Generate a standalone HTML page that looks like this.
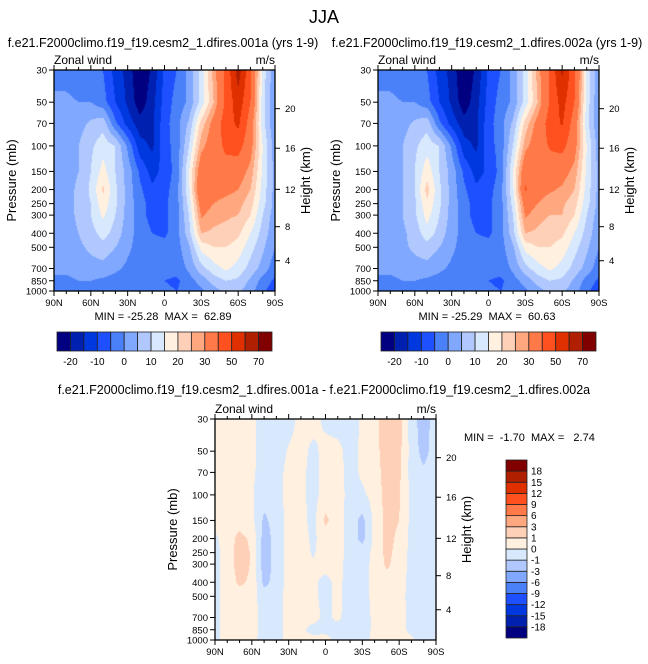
<!DOCTYPE html>
<html><head><meta charset="utf-8">
<style>
body{margin:0;background:#fff;width:648px;height:664px;overflow:hidden;position:relative;font-family:"Liberation Sans",sans-serif}
canvas{position:absolute}
svg{position:absolute;left:0;top:0}
</style></head>
<body>
<canvas id="cA" width="221" height="221" style="left:54px;top:70px"></canvas>
<canvas id="cB" width="221" height="221" style="left:378px;top:70px"></canvas>
<canvas id="cD" width="221" height="221" style="left:215px;top:419px"></canvas>
<svg id="ov" width="648" height="664" font-family="Liberation Sans, sans-serif">
<text x="324" y="23" font-size="18" text-anchor="middle">JJA</text>
<text x="163" y="47" font-size="12.5" text-anchor="middle">f.e21.F2000climo.f19_f19.cesm2_1.dfires.001a (yrs 1-9)</text>
<text x="487" y="47" font-size="12.5" text-anchor="middle">f.e21.F2000climo.f19_f19.cesm2_1.dfires.002a (yrs 1-9)</text>
<text x="324" y="394" font-size="12.5" text-anchor="middle">f.e21.F2000climo.f19_f19.cesm2_1.dfires.001a - f.e21.F2000climo.f19_f19.cesm2_1.dfires.002a</text>
<text x="163" y="320" font-size="11" text-anchor="middle" xml:space="preserve">MIN = -25.28  MAX =  62.89</text>
<text x="487" y="320" font-size="11" text-anchor="middle" xml:space="preserve">MIN = -25.29  MAX =  60.63</text>
<text x="464" y="441" font-size="11" xml:space="preserve">MIN =  -1.70  MAX =   2.74</text>
</svg>
<script>
const lats=[90,80,70,60,50,40,30,20,10,0,-10,-20,-30,-40,-50,-60,-70,-80,-90];
const pLevels=[30,50,70,100,150,200,250,300,400,500,700,850,1000];
const windA=[
[-2,-2,-3,-3,-5,-12,-17,-25,-19,-9,-5,2,12,27,42,65,42,13,1],
[1,1,0,0,-3,-10,-16,-23,-17,-8,-3,1,12,25,42,56,40,12,0],
[2,3,3,6,8,-4,-12,-18,-16,-7,-2,6,22,33,45,52,35,12,0],
[3,3,5,9,13,10,-1,-13,-16,-7,-3,10,28,35,42,44,33,15,2],
[3,3,5,10,17,10,3,-6,-12,-8,-3,15,36,36,36,34,28,14,3],
[3,3,6,11,21,11,3,-4,-9,-7,-2,14,40,33,32,30,25,13,3],
[3,3,6,10,18,11,3,-3,-7,-6,-2,12,34,30,28,27,22,12,3],
[3,3,6,10,16,10,3,-3,-7,-6,-2,10,31,27,26,25,20,10,2],
[3,3,5,8,12,8,2,-2,-5,-6,-2,8,25,24,23,21,15,8,1],
[2,2,4,6,8,5,1,-2,-3,-3,-2,4,17,20,20,18,12,6,0],
[1,1,2,3,3,1,-1,-3,-3,-3,-3,1,8,13,16,13,8,3,-3],
[-1,-1,0,0,-1,-2,-3,-3,-4,-5,-6,-2,2,7,10,9,4,-2,-6],
[-3,-3,-2,-2,-3,-4,-4,-3,-4,-4,-5,-3,-1,3,6,6,2,-4,-8]];
const windB=[
[-2,-2,-3,-3,-5,-12,-17,-25,-19,-9,-5,2,12,27,41,62,42,14,1],
[1,1,0,0,-3,-10,-16,-23,-17,-8,-3,1,12,25,41,54,40,13,0],
[2,3,3,6,8,-4,-12,-18,-16,-7,-2,6,22,33,44,51,35,12,0],
[3,3,5,9,13,10,-1,-13,-16,-7,-3,10,28,35,41,43,33,15,2],
[3,3,5,10,18,10,3,-6,-12,-9,-3,15,37,36,35,33,28,14,3],
[3,3,5,10,22,11,3,-4,-9,-7,-2,14,41,33,31,29,25,13,3],
[3,3,5,9,19,11,3,-3,-7,-6,-2,12,34,30,27,26,22,12,3],
[3,3,5,9,17,10,3,-3,-7,-6,-2,10,31,27,25,25,20,10,2],
[3,3,4,7,13,8,2,-2,-5,-6,-2,8,25,24,22,21,15,8,1],
[2,2,4,6,8,5,1,-2,-3,-3,-2,4,17,20,20,18,12,6,0],
[1,1,2,3,3,1,-1,-3,-3,-3,-3,1,8,13,16,13,8,3,-3],
[-1,-1,0,0,-1,-2,-3,-3,-4,-5,-6,-2,2,7,10,9,4,-2,-6],
[-3,-3,-2,-2,-3,-4,-4,-3,-4,-4,-5,-3,-1,3,6,6,2,-4,-8]];
const windDiff=[
[.4,.5,.5,.3,-.5,-.5,-.4,.3,.5,-.3,-.5,-.5,.2,.6,1.8,1.5,-.5,-1.6,-.4],
[.4,.5,.5,.3,-.5,-.5,.1,.4,-.3,.4,.3,-.4,.2,.6,1.6,1.3,-.4,-1.4,-.4],
[.4,.5,.5,.2,-.5,-.4,.3,.3,-.4,.4,.4,-.4,.2,.5,1.5,1.2,-.4,-.8,-.3],
[.4,.5,.5,.1,-.6,-.5,.4,.3,-.4,.5,.5,-.4,-.2,.4,1.4,1.1,-.3,-.4,-.3],
[.4,.5,.6,.3,-1.2,-.6,.4,.3,-.3,1.2,.5,-.5,-1.3,.3,1.3,1,-.3,-.4,-.3],
[-.2,.5,1.3,.8,-1.5,-.6,.4,.4,-.2,.5,.5,-.5,-1.3,.3,1.3,.8,-.3,-.4,-.3],
[-.3,.4,1.5,.9,-1.6,-.6,.4,.4,-.1,.5,.5,-.5,-.5,.3,1.3,.6,-.3,-.4,-.3],
[-.3,.4,1.5,.9,-1.6,-.6,.4,.4,.1,.4,.4,-.5,-.4,.3,1.2,.5,-.3,-.4,-.3],
[-.3,.4,1.2,.8,-1.3,-.6,.4,.3,.2,-.3,.3,-.5,-.4,.3,.6,.4,-.3,-.4,-.3],
[-.3,.4,.5,.4,-.5,-.5,.4,.3,.2,-.3,.3,-.5,-.4,.3,.5,.3,-.3,-.4,-.3],
[-.3,.4,.5,.4,-.4,-.4,.4,.3,.3,-.2,.2,-.5,-.4,.2,.5,.4,-.3,-.4,-.3],
[-.3,.4,.5,.4,-.4,-.4,.4,.2,-.3,-.3,-.4,-.5,-.4,.2,.5,.4,-.3,-.4,-.3],
[-.3,.4,.4,.3,-.4,-.4,.4,.2,.3,.4,-.4,-.5,-.4,.3,.5,.4,.2,-.4,-.3]];
const levelsA=[-20,-15,-10,-5,0,5,10,15,20,25,30,40,50,60,70];
const levelsD=[-18,-15,-12,-9,-6,-3,-1,0,1,3,6,9,12,15,18];
const cbLabelsA=["-20","-10","0","10","20","30","50","70"];
const xTickLabels=["90N","60N","30N","0","30S","60S","90S"];
const pTicks=[30,50,70,100,150,200,250,300,400,500,700,850,1000];
const hTicks=[20,16,12,8,4];
const hFrac=[0.175,0.354,0.54,0.709,0.863];
const colors=['#000080','#0020b0','#0038e0','#1e50ff','#4a80f8','#80a8ff','#b0c8fd','#d8e8fd','#fff0e0','#ffd0b8','#ffa880','#ff7a48','#ff5020','#e03000','#b02000','#800000'];
const W=221,H=221;
function xScale(lat){return (90-lat)/180*W;}
function yScale(p){return Math.log(p/30)/Math.log(1000/30)*H;}
function hexRGB(h){return [parseInt(h.substr(1,2),16),parseInt(h.substr(3,2),16),parseInt(h.substr(5,2),16)];}
const rgb=colors.map(hexRGB);
function drawField(id,data,levels){
  const cv=document.getElementById(id),ctx=cv.getContext('2d');
  const img=ctx.createImageData(W,H);
  const ys=pLevels.map(yScale), xs=lats.map(xScale);
  for(let py=0;py<H;py++){
    const y=py+0.5;let i=0;while(i<ys.length-2&&y>ys[i+1])i++;
    const t=Math.min(1,Math.max(0,(y-ys[i])/(ys[i+1]-ys[i])));
    for(let px=0;px<W;px++){
      const x=px+0.5;let j=0;while(j<xs.length-2&&x>xs[j+1])j++;
      const s=Math.min(1,Math.max(0,(x-xs[j])/(xs[j+1]-xs[j])));
      const v=(data[i][j]*(1-s)+data[i][j+1]*s)*(1-t)+(data[i+1][j]*(1-s)+data[i+1][j+1]*s)*t;
      let b=0;while(b<levels.length&&v>=levels[b])b++;
      const c=rgb[b],k=(py*W+px)*4;
      img.data[k]=c[0];img.data[k+1]=c[1];img.data[k+2]=c[2];img.data[k+3]=255;
    }
  }
  ctx.putImageData(img,0,0);
}
drawField('cA',windA,levelsA);
drawField('cB',windB,levelsA);
drawField('cD',windDiff,levelsD);
const svg=document.getElementById('ov');const NS='http://www.w3.org/2000/svg';
function mk(tag,attrs,txt){const e=document.createElementNS(NS,tag);for(const k in attrs)e.setAttribute(k,attrs[k]);if(txt!==undefined)e.textContent=txt;svg.appendChild(e);return e;}
function axes(x0,y0,tag){
  let e=mk('rect',{x:x0,y:y0,width:W,height:H,fill:'none',stroke:'#000','stroke-width':1.3});
  
  
  for(let lat=90;lat>=-90;lat-=10){
    const x=x0+xScale(lat),major=lat%30===0,L=major?5:3;
    e=mk('line',{x1:x,x2:x,y1:y0+H,y2:y0+H+L,stroke:'#000','stroke-width':1});
    
    
    e=mk('line',{x1:x,x2:x,y1:y0,y2:y0-L,stroke:'#000','stroke-width':1});
    
    
  }
  xTickLabels.forEach((lb,i)=>{
    e=mk('text',{x:x0+i*W/6,y:y0+H+15,'font-size':9.5,'text-anchor':'middle'},lb);
    
    
  });
  pTicks.forEach(p=>{
    const y=y0+yScale(p);
    e=mk('line',{x1:x0-5,x2:x0,y1:y,y2:y,stroke:'#000','stroke-width':1});
    
    
    e=mk('text',{x:x0-7,y:y+3.5,'font-size':9.5,'text-anchor':'end'},String(p));
    
    
  });
  hTicks.forEach((h,i)=>{
    const y=y0+hFrac[i]*H;
    e=mk('line',{x1:x0+W,x2:x0+W+5,y1:y,y2:y,stroke:'#000','stroke-width':1});
    
    
    e=mk('text',{x:x0+W+10,y:y+3.5,'font-size':9.5},String(h));
    
    
  });
  e=mk('text',{x:x0,y:y0-6,'font-size':12},'Zonal wind');
  
  
  e=mk('text',{x:x0+W,y:y0-6,'font-size':12,'text-anchor':'end'},'m/s');
  
  
  e=mk('text',{x:0,y:0,'font-size':13,'text-anchor':'middle',transform:'translate('+(x0-38)+','+(y0+H/2)+') rotate(-90)'},'Pressure (mb)');
  
  
  e=mk('text',{x:0,y:0,'font-size':13,'text-anchor':'middle',transform:'translate('+(x0+W+35)+','+(y0+H/2)+') rotate(-90)'},'Height (km)');
  
  
}
axes(54,70,'panel-a');axes(378,70,'panel-b');axes(215,419,'panel-diff');
function hbar(x0,y0,tag){
  const bw=215/16;
  colors.forEach((c,i)=>{
    const e=mk('rect',{x:x0+i*bw,y:y0,width:bw,height:19,fill:c,stroke:'#222','stroke-width':0.8});
    
    
  });
  cbLabelsA.forEach((lb,i)=>{
    const e=mk('text',{x:x0+(1+2*i)*bw,y:y0+33,'font-size':10,'text-anchor':'middle'},lb);
    
    
  });
}
hbar(57,332,'panel-a');hbar(381,332,'panel-b');
const bh=178/16;
colors.forEach((c,i)=>{
  const e=mk('rect',{x:506,y:638-(i+1)*bh,width:21,height:bh,fill:c,stroke:'#222','stroke-width':0.8});
  
  
});
levelsD.forEach((lv,i)=>{
  const e=mk('text',{x:531,y:638-(i+1)*bh+3.5,'font-size':10},String(lv));
  
  
});
</script>
</body></html>
